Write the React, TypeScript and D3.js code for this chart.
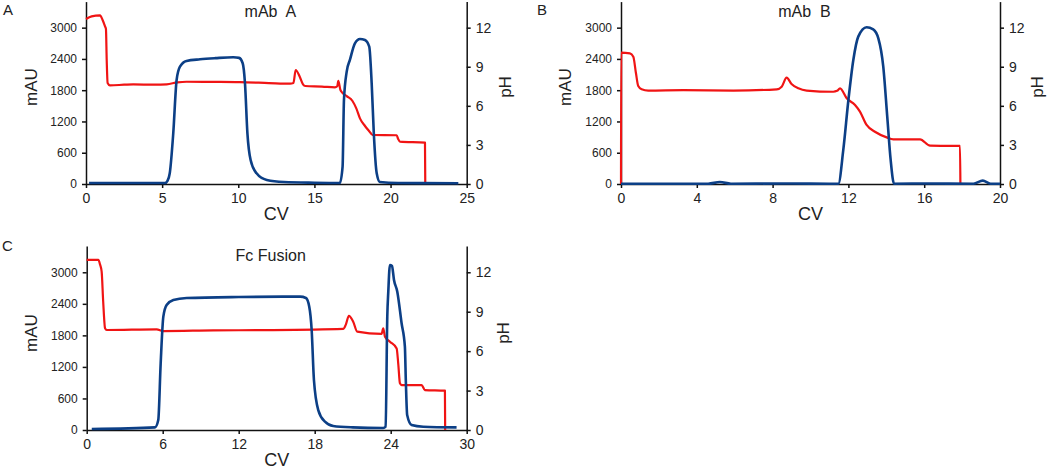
import React, { useEffect, useRef } from 'react';
import * as d3 from 'd3';

type Pt = [number, number];

// tick values
const uvTicks = [0, 600, 1200, 1800, 2400, 3000];
const phTicks = [0, 3, 6, 9, 12];
const cvTicksA = [0, 5, 10, 15, 20, 25];
const cvTicksB = [0, 4, 8, 12, 16, 20];
const cvTicksC = [0, 6, 12, 18, 24, 30];

// mAb A : pH trace [CV, pH]
const phA: Pt[] = [
  [0, 12.66], [0.37, 12.87], [0.92, 12.94], [1.09, 12.59], [1.25, 12.1], [1.31, 11.9],
  [1.36, 9.5], [1.42, 7.75], [1.57, 7.57], [2.5, 7.62], [3.1, 7.65], [4.5, 7.62],
  [5.3, 7.65], [6.0, 7.8], [6.6, 7.85], [8.5, 7.84], [10.1, 7.82], [12.0, 7.75],
  [13.4, 7.7], [13.62, 7.75], [13.77, 8.75], [14.05, 8.2], [14.25, 7.65], [14.4, 7.52],
  [15.5, 7.48], [16.35, 7.42], [16.5, 7.5], [16.57, 7.92], [16.7, 7.25], [16.78, 7.08],
  [17.12, 6.75], [17.5, 6.37], [17.75, 5.8], [17.99, 5.04], [18.32, 4.45], [18.6, 4.05],
  [18.82, 3.76], [20.4, 3.74], [20.5, 3.45], [20.62, 3.25], [22.26, 3.17], [22.28, 0],
];

// mAb A : UV trace [CV, mAU]
const uvA: Pt[] = [
  [0.2, 20], [5.2, 20], [5.35, 60], [5.5, 205], [5.73, 973], [5.95, 1996], [6.17, 2252],
  [6.6, 2361], [7.49, 2393], [8.5, 2415], [9.67, 2432], [10.05, 2420], [10.29, 2317],
  [10.44, 1933], [10.6, 973], [10.81, 460], [11.2, 205], [11.87, 77], [13.0, 38],
  [15, 25], [16.67, 20], [16.85, 333], [16.94, 1612], [17.12, 2156], [17.33, 2380],
  [17.66, 2700], [17.99, 2783], [18.32, 2764], [18.6, 2635], [18.76, 1933], [18.9, 973],
  [19.09, 205], [19.3, 38], [20.5, 20], [24.45, 15],
];

// mAb B : pH trace
const phB: Pt[] = [
  [0, 0], [0.01, 10.08], [0.47, 10.03], [0.65, 9.77], [0.79, 8.5], [0.91, 7.52],
  [1.09, 7.27], [1.44, 7.17], [3.29, 7.2], [5.93, 7.17], [8.22, 7.27], [8.48, 7.47],
  [8.74, 8.16], [9.0, 7.67], [9.36, 7.34], [9.8, 7.17], [11.2, 7.08], [11.4, 7.15],
  [11.56, 7.34], [11.91, 6.58], [12.35, 6.06], [12.61, 5.55], [12.96, 4.53], [13.4, 4.01],
  [14.02, 3.58], [14.37, 3.43], [15.78, 3.43], [16.31, 2.94], [17.89, 2.92], [17.91, 0],
];

// mAb B : UV trace
const uvB: Pt[] = [
  [0, 5], [4.6, 5], [5.22, 38], [5.8, 5], [8.5, 10], [11.47, 5], [11.73, 653],
  [12.0, 1612], [12.26, 2380], [12.52, 2828], [12.96, 3008], [13.31, 2969], [13.58, 2796],
  [13.84, 2252], [14.05, 1292], [14.23, 461], [14.41, 5], [16, 10], [18.6, 5],
  [19.09, 64], [19.5, 5], [20, 5],
];

// Fc Fusion : pH trace
const phC: Pt[] = [
  [0, 12.94], [0.92, 12.94], [1.05, 12.6], [1.18, 12.05], [1.3, 9.8], [1.45, 7.74],
  [1.58, 7.61], [5.52, 7.66], [6.05, 7.53], [10, 7.58], [14, 7.6], [20.25, 7.69],
  [20.45, 8.0], [20.7, 8.68], [21.04, 8.24], [21.36, 7.48], [23.28, 7.31], [23.41, 7.74],
  [23.55, 7.1], [23.94, 6.72], [24.47, 6.21], [24.6, 5.0], [24.73, 3.55], [24.86, 3.42],
  [26.44, 3.42], [26.7, 3.04], [28.28, 2.99], [28.3, 0],
];

// Fc Fusion : UV trace
const uvC: Pt[] = [
  [0.4, 19], [5.39, 50], [5.65, 190], [5.84, 1268], [6.05, 2156], [6.31, 2378],
  [6.84, 2473], [7.89, 2511], [12, 2530], [16.84, 2537], [17.31, 2511], [17.57, 2346],
  [17.76, 1903], [17.94, 951], [18.28, 380], [18.81, 158], [19.46, 76], [21, 50],
  [23.41, 38], [23.6, 63], [23.73, 2156], [23.81, 2632], [23.94, 3139], [24.1, 3120],
  [24.26, 2854], [24.52, 2632], [24.86, 2030], [25.12, 1585], [25.2, 888], [25.3, 285],
  [25.65, 95], [26.57, 63], [29.2, 50],
];

const RED = '#f01414';
const BLUE = '#0c3f86';
const FONT = "'Liberation Sans', Arial, sans-serif";

interface Panel {
  letter: string;
  letterX: number;
  letterY: number;
  title: string;
  uv: Pt[];
  ph: Pt[];
  cvMax: number;
  cvTicks: number[];
  left: number;
  right: number;
  top: number;
  bottom: number;
  mauX: number;
  phX: number;
  labelY: number;
}

const panels: Panel[] = [
  {
    letter: 'A', letterX: 3, letterY: 15, title: 'mAb  A', uv: uvA, ph: phA,
    cvMax: 25, cvTicks: cvTicksA, left: 86, right: 466.7, top: 1.6, bottom: 184,
    mauX: 37, phX: 511, labelY: 87,
  },
  {
    letter: 'B', letterX: 537, letterY: 15, title: 'mAb  B', uv: uvB, ph: phB,
    cvMax: 20, cvTicks: cvTicksB, left: 621, right: 1000, top: 1.6, bottom: 184,
    mauX: 571, phX: 1043, labelY: 87,
  },
  {
    letter: 'C', letterX: 2, letterY: 251, title: 'Fc Fusion', uv: uvC, ph: phC,
    cvMax: 30, cvTicks: cvTicksC, left: 86.7, right: 466.7, top: 246, bottom: 430,
    mauX: 37, phX: 509, labelY: 333,
  },
];

const drawPanel = (svg: d3.Selection<SVGSVGElement, unknown, null, undefined>, p: Panel) => {
  const x = d3.scaleLinear().domain([0, p.cvMax]).range([p.left, p.right]);
  const y = d3.scaleLinear().domain([0, 3500]).range([p.bottom, p.top]);
  const yPh = d3.scaleLinear().domain([0, 14]).range([p.bottom, p.top]);

  const g = svg.append('g');

  // axes
  const styleAxis = (sel: d3.Selection<SVGGElement, unknown, null, undefined>, size: number) => {
    sel.selectAll('path.domain').attr('stroke', '#111').attr('stroke-width', 1.5);
    sel.selectAll('.tick line').attr('stroke', '#111').attr('stroke-width', 1.5);
    sel.selectAll('.tick text').attr('fill', '#222').attr('font-size', size).attr('font-family', FONT);
  };

  const gx = g.append('g').attr('transform', `translate(0,${p.bottom})`)
    .call(d3.axisBottom(x).tickValues(p.cvTicks).tickSize(4).tickSizeOuter(0).tickPadding(5).tickFormat(d3.format('d')));
  styleAxis(gx, 14);

  const gl = g.append('g').attr('transform', `translate(${p.left},0)`)
    .call(d3.axisLeft(y).tickValues(uvTicks).tickSize(4).tickSizeOuter(0).tickPadding(5).tickFormat(d3.format('d')));
  styleAxis(gl, 12);

  const gr = g.append('g').attr('transform', `translate(${p.right},0)`)
    .call(d3.axisRight(yPh).tickValues(phTicks).tickSize(4).tickSizeOuter(0).tickPadding(5).tickFormat(d3.format('d')));
  styleAxis(gr, 14);

  // traces
  const phLine = d3.line<Pt>().x(d => x(d[0])).y(d => yPh(d[1])).curve(d3.curveMonotoneX);
  const uvLine = d3.line<Pt>().x(d => x(d[0])).y(d => y(d[1])).curve(d3.curveMonotoneX);

  g.append('path').attr('d', phLine(p.ph) || '').attr('fill', 'none')
    .attr('stroke', RED).attr('stroke-width', 2.2).attr('stroke-linejoin', 'round');
  g.append('path').attr('d', uvLine(p.uv) || '').attr('fill', 'none')
    .attr('stroke', BLUE).attr('stroke-width', 2.6).attr('stroke-linejoin', 'round');

  // texts
  g.append('text').attr('x', p.letterX).attr('y', p.letterY)
    .attr('font-size', 15).attr('font-family', FONT).attr('fill', '#222').text(p.letter);

  g.append('text').attr('x', (p.left + p.right) / 2 - 6).attr('y', p.top + 15)
    .attr('text-anchor', 'middle').attr('font-size', 16).attr('font-family', FONT)
    .attr('fill', '#222').style('white-space', 'pre').text(p.title);

  g.append('text').attr('x', (p.left + p.right) / 2).attr('y', p.bottom + 36)
    .attr('text-anchor', 'middle').attr('font-size', 18).attr('font-family', FONT)
    .attr('fill', '#222').text('CV');

  g.append('text').attr('transform', `translate(${p.mauX},${p.labelY}) rotate(-90)`)
    .attr('text-anchor', 'middle').attr('font-size', 17).attr('font-family', FONT)
    .attr('fill', '#222').text('mAU');

  g.append('text').attr('transform', `translate(${p.phX},${p.labelY}) rotate(-90)`)
    .attr('text-anchor', 'middle').attr('font-size', 17).attr('font-family', FONT)
    .attr('fill', '#222').text('pH');
};

const App: React.FC = () => {
  const svgRef = useRef<SVGSVGElement>(null);

  useEffect(() => {
    const svg = d3.select(svgRef.current!);
    svg.selectAll('*').remove();
    panels.forEach(p => drawPanel(svg, p));
  }, []);

  return (
    <svg
      ref={svgRef}
      width={1052}
      height={472}
      style={{ position: 'absolute', left: 0, top: 0, background: '#fff' }}
    />
  );
};

export default App;
